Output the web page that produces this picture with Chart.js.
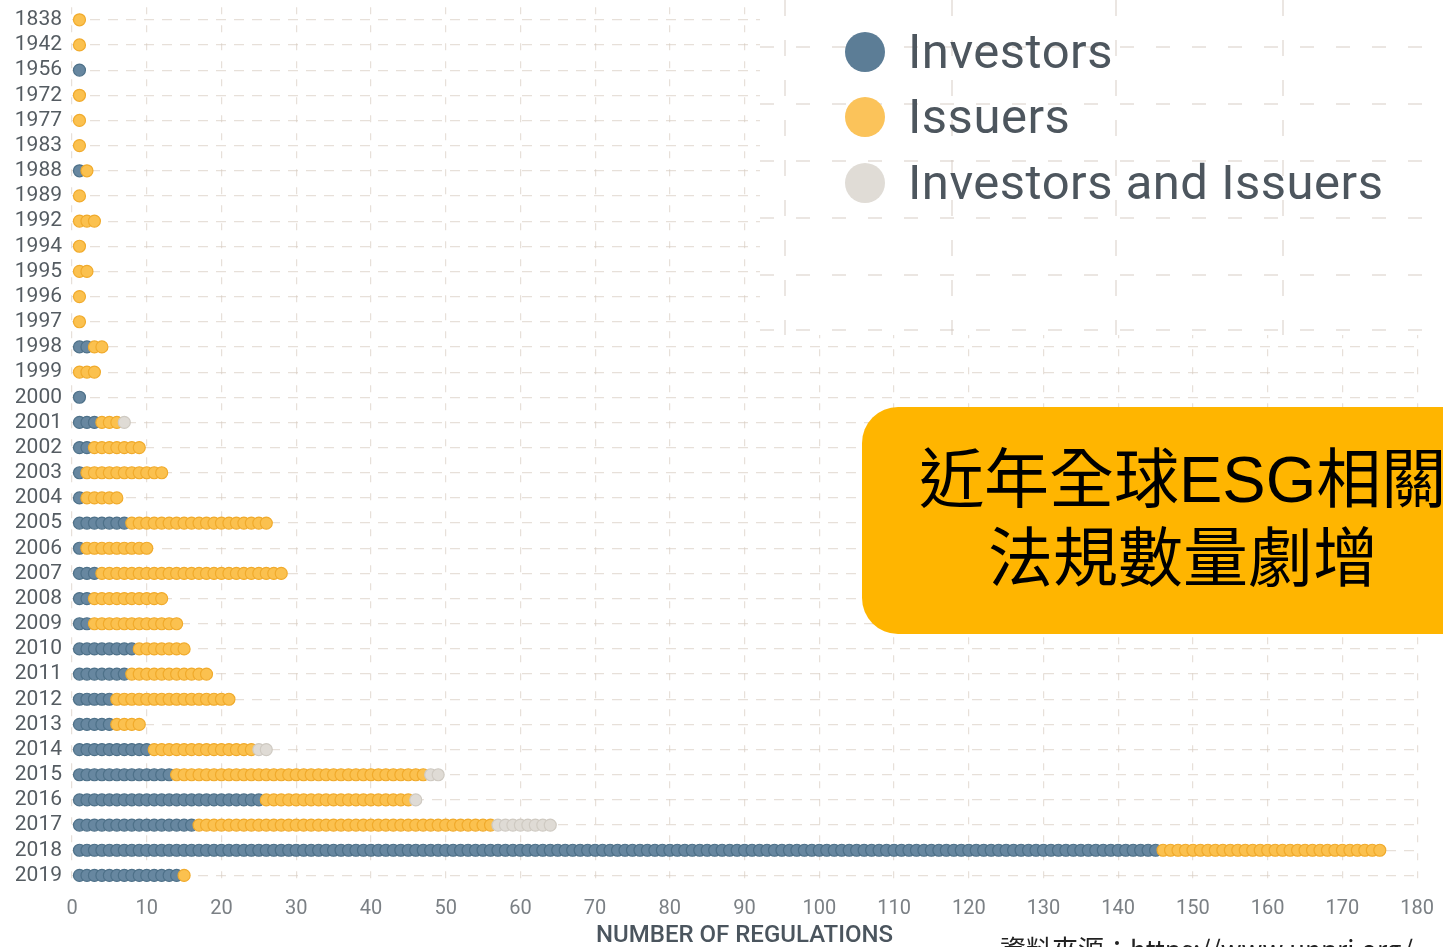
<!DOCTYPE html>
<html>
<head>
<meta charset="utf-8">
<script src="https://cdn.jsdelivr.net/npm/chart.js@4.4.1/dist/chart.umd.min.js"></script>
<style>
  html, body { margin:0; padding:0; background:#fff; width:1443px; height:947px; overflow:hidden; }
  #wrap { position:absolute; left:0; top:0; width:1443px; height:947px; }
  canvas { position:absolute; left:0; top:0; }
  #legendBox { position:absolute; left:760px; top:0; width:683px; height:335px; background:#fff; }
  #legendBox svg { position:absolute; left:0; top:0; }
  .lg { position:absolute; left:148px; height:50px; font-family:Roboto, "DejaVu Sans", sans-serif; font-size:49px; letter-spacing:0.5px; color:#4d565e; line-height:50px; white-space:nowrap; }
  .lg i { position:absolute; left:-63px; top:5px; width:40px; height:40px; border-radius:50%; }
  #callout { position:absolute; left:862px; top:407px; width:650px; height:227px; border-radius:36px; background:#FFB500; }
  .ct { position:absolute; font-family:"Liberation Sans", "Noto Sans CJK TC", "Noto Sans CJK SC", sans-serif; font-size:65px; line-height:65px; color:#000; white-space:nowrap; }
  #src { position:absolute; left:1000px; top:935px; font-family:"Noto Sans CJK TC", sans-serif; font-size:26px; line-height:26px; color:#222; white-space:nowrap; }
</style>
</head>
<body>
<div id="wrap">
  <canvas id="c" width="1443" height="947"></canvas>
  <div id="legendBox">
    <svg width="683" height="335">
      <g stroke="rgba(205,195,185,0.55)" stroke-width="1.5" stroke-dasharray="14 22">
        <line x1="0" y1="47" x2="683" y2="47"/>
        <line x1="0" y1="104" x2="683" y2="104"/>
        <line x1="0" y1="161" x2="683" y2="161"/>
        <line x1="0" y1="218" x2="683" y2="218"/>
        <line x1="0" y1="275" x2="683" y2="275"/>
        <line x1="0" y1="330" x2="683" y2="330"/>
      </g>
      <g stroke="rgba(205,195,185,0.55)" stroke-width="1.5" stroke-dasharray="16 24">
        <line x1="25" y1="0" x2="25" y2="335"/>
        <line x1="192" y1="0" x2="192" y2="335"/>
        <line x1="356" y1="0" x2="356" y2="335"/>
        <line x1="523" y1="0" x2="523" y2="335"/>
      </g>
    </svg>
    <div class="lg" style="top:27px"><i style="background:#5c7d96"></i>Investors</div>
    <div class="lg" style="top:92px"><i style="background:#fbc35a"></i>Issuers</div>
    <div class="lg" style="top:158px"><i style="background:#e0dcd6"></i>Investors and Issuers</div>
  </div>
  <div id="callout"></div>
  <div class="ct" style="left:919px; top:447px;">近年全球ESG相關</div>
  <div class="ct" style="left:988px; top:526px;">法規數量劇增</div>
  <div id="src">資料來源：https://www.unpri.org/</div>
</div>
<script>
// ---- data ----
const years = ["1838","1942","1956","1972","1977","1983","1988","1989","1992","1994","1995","1996","1997","1998","1999","2000","2001","2002","2003","2004","2005","2006","2007","2008","2009","2010","2011","2012","2013","2014","2015","2016","2017","2018","2019"];
const investors = [0,0,1,0,0,0,1,0,0,0,0,0,0,2,0,1,3,2,1,1,7,1,3,2,2,8,7,5,5,10,13,25,16,145,14];
const issuers   = [1,1,0,1,1,1,1,1,3,1,2,1,1,2,3,0,3,7,11,5,19,9,25,10,12,7,11,16,4,14,34,20,40,30,1];
const both      = [0,0,0,0,0,0,0,0,0,0,0,0,0,0,0,0,1,0,0,0,0,0,0,0,0,0,0,0,0,2,2,1,8,0,0];
const xMin = 0, xMax = 180, xStep = 10;
const seriesNames = ["Investors", "Issuers", "Investors and Issuers"];

// Each regulation is one dot; the k-th dot of a year sits at cumulative count k.
function dots(counts, prior) {
  const pts = [];
  counts.forEach((n, i) => {
    const start = prior.reduce((s, arr) => s + arr[i], 0);
    for (let k = 1; k <= n; k++) pts.push({ x: start + k, y: years[i] });
  });
  return pts;
}

const gridColor = 'rgba(215,203,192,0.6)';

new Chart(document.getElementById('c'), {
  type: 'scatter',
  data: {
    datasets: [
      { label: seriesNames[0], data: dots(investors, []), order: 3,
        pointRadius: 6, pointHoverRadius: 6, pointBackgroundColor: '#6787a0', pointBorderColor: '#4e7189', pointBorderWidth: 1.2 },
      { label: seriesNames[1], data: dots(issuers, [investors]), order: 2,
        pointRadius: 6, pointHoverRadius: 6, pointBackgroundColor: '#fbc14f', pointBorderColor: '#f1ab2c', pointBorderWidth: 1.2 },
      { label: seriesNames[2], data: dots(both, [investors, issuers]), order: 1,
        pointRadius: 6, pointHoverRadius: 6, pointBackgroundColor: '#dfdbd5', pointBorderColor: '#cfcac2', pointBorderWidth: 1.2 }
    ]
  },
  options: {
    responsive: false,
    animation: false,
    devicePixelRatio: 1,
    layout: { padding: { top: 3, right: 24, left: 0, bottom: 0 } },
    plugins: { legend: { display: false }, tooltip: { enabled: false } },
    scales: {
      x: {
        type: 'linear', min: xMin, max: xMax,
        ticks: { stepSize: xStep, color: '#7b8085', padding: 9, font: { family: 'Roboto', size: 20 } },
        grid: { color: gridColor, lineWidth: 1.2, drawTicks: false },
        border: { display: false, dash: [7, 11] },
        title: { display: true, text: 'NUMBER OF REGULATIONS', color: '#4b555e', padding: 0,
                 font: { family: 'Roboto', size: 24, weight: '500', lineHeight: 0.9 } },
        afterFit: (s) => { s.height = 59; s.paddingLeft = 0; }
      },
      y: {
        type: 'category', labels: years, offset: true,
        ticks: { color: '#555c62', padding: 10, autoSkip: false, font: { family: 'Roboto', size: 21 } },
        grid: { color: gridColor, lineWidth: 1.2, drawTicks: false, offset: false },
        border: { display: false, dash: [10, 8] },
        afterFit: (s) => { s.width = 72; s.paddingTop = 0; s.paddingBottom = 0; }
      }
    }
  }
});
</script>
</body>
</html>
